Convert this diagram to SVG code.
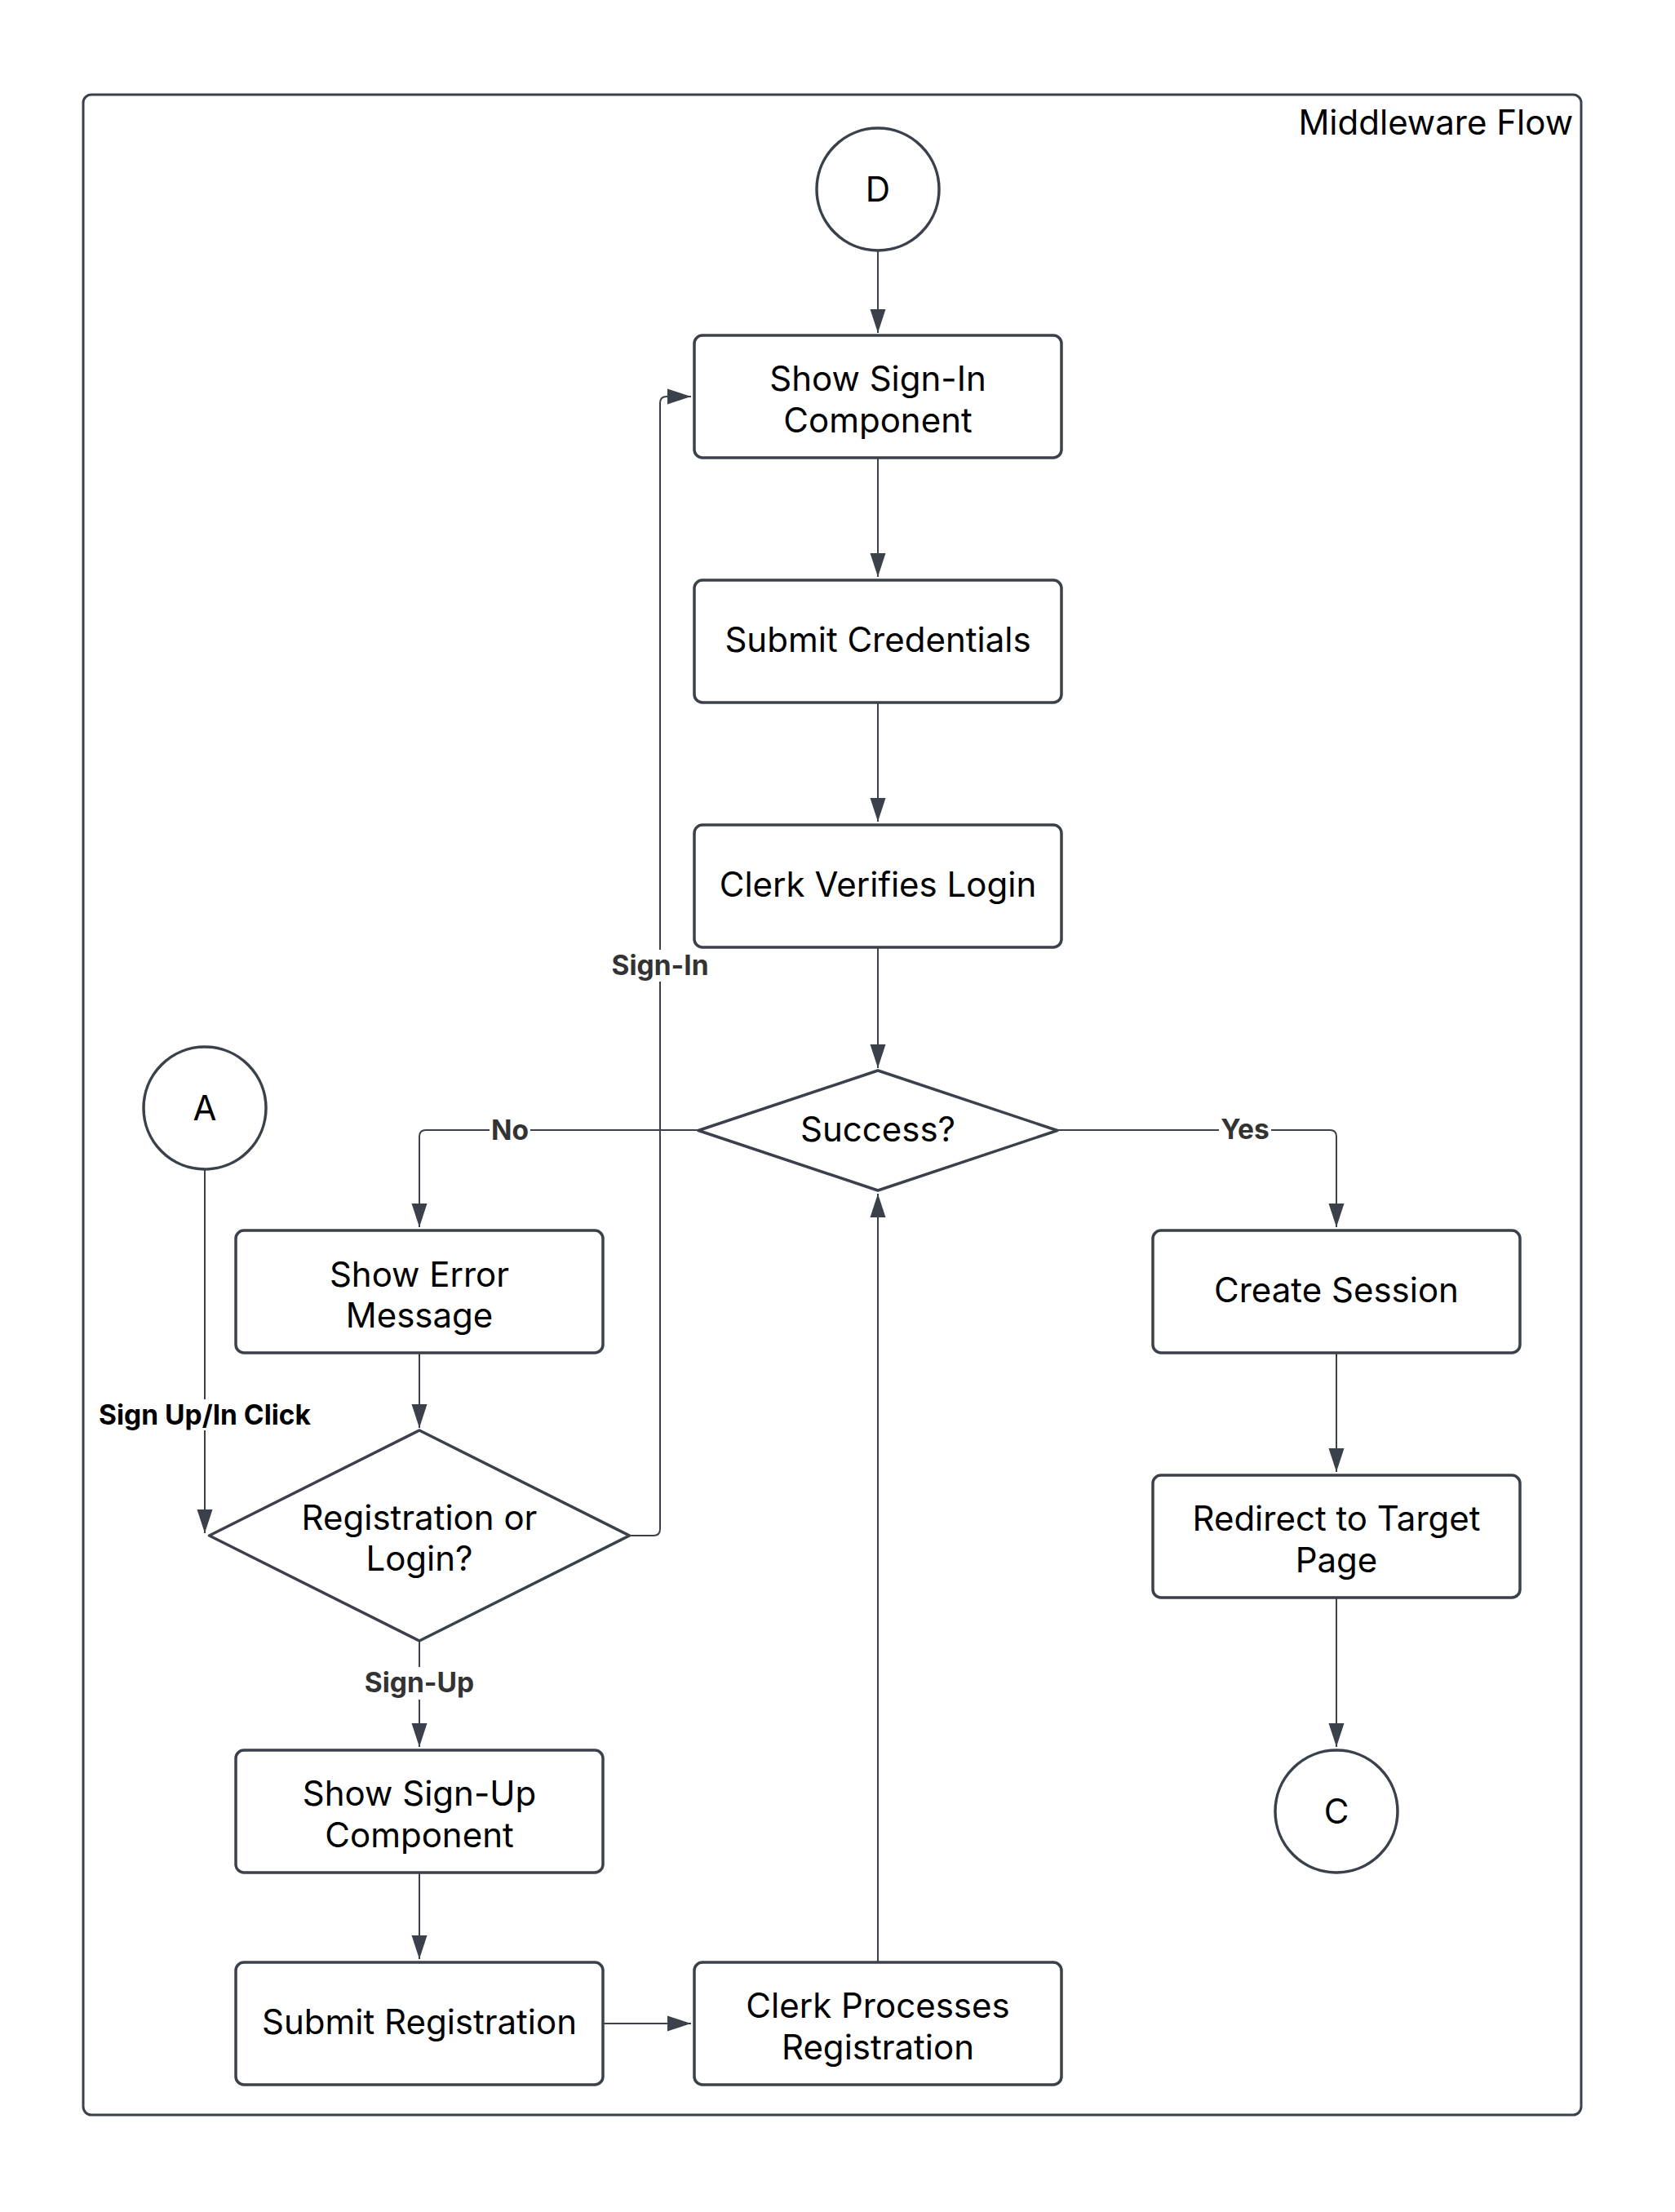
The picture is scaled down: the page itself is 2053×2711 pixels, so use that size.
<svg xmlns="http://www.w3.org/2000/svg" width="2053" height="2711" viewBox="0 0 2053 2711">
  <style>
    .frame { fill: #ffffff; stroke: #3a414a; stroke-width: 3; }
    .node { fill: #ffffff; stroke: #3a414a; stroke-width: 3.5; stroke-linejoin: round; }
    .edge { fill: none; stroke: #3a414a; stroke-width: 2; }
    .txt { font-family: Inter, "Liberation Sans", sans-serif; font-size: 42px; fill: #000000; text-anchor: middle; }
    .title { font-family: Inter, "Liberation Sans", sans-serif; font-size: 42px; fill: #000000; text-anchor: end; }
    .lbl { font-family: Inter, "Liberation Sans", sans-serif; font-size: 33.5px; font-weight: bold; fill: #333333; text-anchor: middle; }
    .lbl-dark { fill: #000000; }
    .gap { fill: #ffffff; }
  </style>
  <defs>
    <marker id="arrow" markerUnits="userSpaceOnUse" markerWidth="30" markerHeight="20" refX="29" refY="10" orient="auto">
      <path d="M0 0.5 L29 10 L0 19.5 Z" fill="#3a414a"/>
    </marker>
  </defs>

  <rect width="2053" height="2711" fill="#ffffff"/>

  <!-- container -->
  <g id="middleware-flow">
    <rect class="frame" x="102" y="116" width="1836" height="2476" rx="10"/>
    <text class="title" x="1928" y="165">Middleware Flow</text>
  </g>

  <!-- connectors -->
  <g id="connectors">
    <path class="edge" d="M1076 307 V408" marker-end="url(#arrow)"/>
    <path class="edge" d="M1076 561 V707" marker-end="url(#arrow)"/>
    <path class="edge" d="M1076 861 V1007" marker-end="url(#arrow)"/>
    <path class="edge" d="M1076 1161 V1309" marker-end="url(#arrow)"/>
    <path class="edge" d="M856 1385 H522 Q514 1385 514 1393 V1504" marker-end="url(#arrow)"/>
    <path class="edge" d="M1296 1385 H1630 Q1638 1385 1638 1393 V1504" marker-end="url(#arrow)"/>
    <path class="edge" d="M1638 1658 V1804" marker-end="url(#arrow)"/>
    <path class="edge" d="M1638 1958 V2141" marker-end="url(#arrow)"/>
    <path class="edge" d="M251 1433 V1879" marker-end="url(#arrow)"/>
    <path class="edge" d="M514 1658 V1750" marker-end="url(#arrow)"/>
    <path class="edge" d="M771 1882 H801 Q809 1882 809 1874 V494 Q809 486 817 486 H847" marker-end="url(#arrow)"/>
    <path class="edge" d="M514 2011 V2141" marker-end="url(#arrow)"/>
    <path class="edge" d="M514 2295 V2401" marker-end="url(#arrow)"/>
    <path class="edge" d="M739 2480 H847" marker-end="url(#arrow)"/>
    <path class="edge" d="M1076 2405 V1463" marker-end="url(#arrow)"/>

    <!-- connector labels -->
    <rect class="gap" x="600" y="1365" width="50" height="40"/>
    <text class="lbl" x="625" y="1397">No</text>
    <rect class="gap" x="1494" y="1365" width="64" height="40"/>
    <text class="lbl" x="1526" y="1396">Yes</text>
    <rect class="gap" x="746" y="1164" width="126" height="39"/>
    <text class="lbl" x="809" y="1195">Sign-In</text>
    <rect class="gap" x="444" y="2043" width="140" height="40"/>
    <text class="lbl" x="514" y="2074">Sign-Up</text>
    <rect class="gap" x="119" y="1715" width="264" height="38"/>
    <text class="lbl lbl-dark" x="251" y="1746">Sign Up/In Click</text>
  </g>

  <!-- nodes -->
  <g id="node-d">
    <circle class="node" cx="1076" cy="232" r="75"/>
    <text class="txt" x="1076" y="247">D</text>
  </g>
  <g id="node-show-sign-in">
    <rect class="node" x="851" y="411" width="450" height="150" rx="10"/>
    <text class="txt" x="1076" y="479">Show Sign-In</text>
    <text class="txt" x="1076" y="530">Component</text>
  </g>
  <g id="node-submit-credentials">
    <rect class="node" x="851" y="711" width="450" height="150" rx="10"/>
    <text class="txt" x="1076" y="799">Submit Credentials</text>
  </g>
  <g id="node-clerk-verifies">
    <rect class="node" x="851" y="1011" width="450" height="150" rx="10"/>
    <text class="txt" x="1076" y="1099">Clerk Verifies Login</text>
  </g>
  <g id="node-success">
    <path class="node" d="M1076 1312 L1296 1385.5 L1076 1459 L856 1385.5 Z"/>
    <text class="txt" x="1076" y="1399">Success?</text>
  </g>
  <g id="node-a">
    <circle class="node" cx="251" cy="1358" r="75"/>
    <text class="txt" x="251" y="1373">A</text>
  </g>
  <g id="node-show-error">
    <rect class="node" x="289" y="1508" width="450" height="150" rx="10"/>
    <text class="txt" x="514" y="1577">Show Error</text>
    <text class="txt" x="514" y="1627">Message</text>
  </g>
  <g id="node-registration-or-login">
    <path class="node" d="M514 1753 L771.5 1882 L514 2011 L256.5 1882 Z"/>
    <text class="txt" x="514" y="1875">Registration or</text>
    <text class="txt" x="514" y="1925">Login?</text>
  </g>
  <g id="node-show-sign-up">
    <rect class="node" x="289" y="2145" width="450" height="150" rx="10"/>
    <text class="txt" x="514" y="2213">Show Sign-Up</text>
    <text class="txt" x="514" y="2264">Component</text>
  </g>
  <g id="node-submit-registration">
    <rect class="node" x="289" y="2405" width="450" height="150" rx="10"/>
    <text class="txt" x="514" y="2493">Submit Registration</text>
  </g>
  <g id="node-clerk-processes">
    <rect class="node" x="851" y="2405" width="450" height="150" rx="10"/>
    <text class="txt" x="1076" y="2473">Clerk Processes</text>
    <text class="txt" x="1076" y="2524">Registration</text>
  </g>
  <g id="node-create-session">
    <rect class="node" x="1413" y="1508" width="450" height="150" rx="10"/>
    <text class="txt" x="1638" y="1596">Create Session</text>
  </g>
  <g id="node-redirect">
    <rect class="node" x="1413" y="1808" width="450" height="150" rx="10"/>
    <text class="txt" x="1638" y="1876">Redirect to Target</text>
    <text class="txt" x="1638" y="1927">Page</text>
  </g>
  <g id="node-c">
    <circle class="node" cx="1638" cy="2220" r="75"/>
    <text class="txt" x="1638" y="2235">C</text>
  </g>
</svg>
